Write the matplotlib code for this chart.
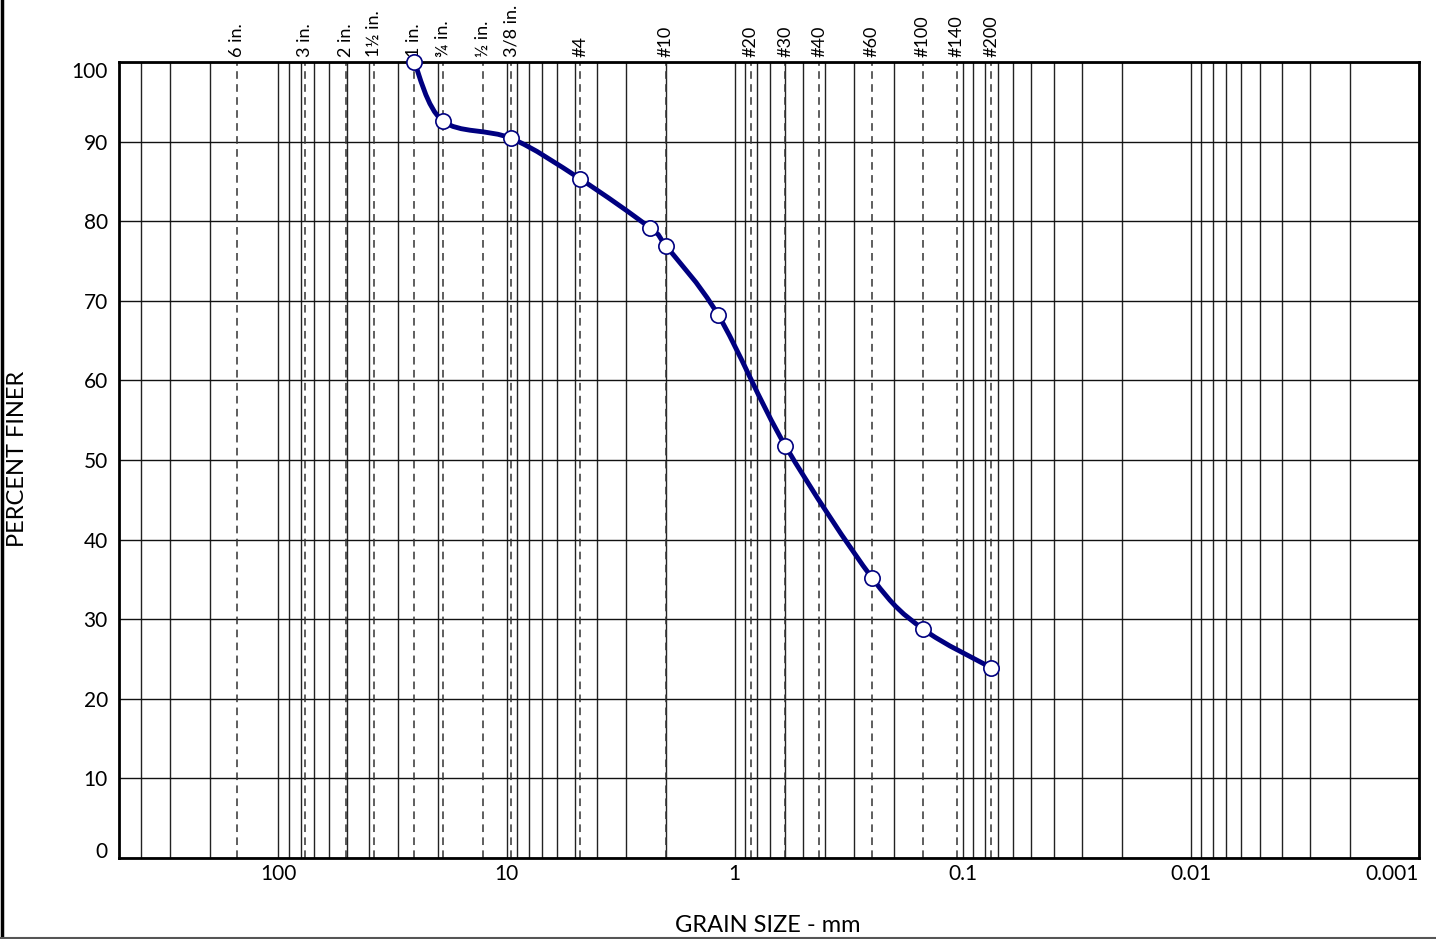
import numpy as np
import matplotlib.pyplot as plt
from matplotlib.path import Path
from matplotlib.patches import PathPatch
from matplotlib.lines import Line2D
from matplotlib.ticker import FixedLocator, NullFormatter, FuncFormatter

plt.rcParams['font.family'] = ['Lato', 'DejaVu Sans']

# gradation test results
grain_mm = [25.4, 19.05, 9.525, 4.75, 2.36, 2.0, 1.18, 0.6, 0.25, 0.15, 0.075]
pct_finer = [100.0, 92.6, 90.4, 85.3, 79.2, 76.9, 68.2, 51.8, 35.2, 28.8, 23.9]

# standard sieve openings shown as dashed lines
sieve_mm = [152.4, 76.2, 50.8, 38.1, 25.4, 19.05, 12.7, 9.525, 4.75, 2.0,
            0.85, 0.6, 0.425, 0.25, 0.15, 0.106, 0.075]
sieve_labels = ["6 in.", "3 in.", "2 in.", "1½ in.", "1 in.", "¾ in.", "½ in.",
                "3/8 in.", "#4", "#10", "#20", "#30", "#40", "#60", "#100",
                "#140", "#200"]

x_major = [100, 10, 1, 0.1, 0.01, 0.001]
y_ticks = [0, 10, 20, 30, 40, 50, 60, 70, 80, 90, 100]

fig = plt.figure(figsize=(14.36, 9.39), dpi=100)
ax = fig.add_axes([119/1436, 1-858/939, 1300/1436, 796/939])
ax.set_xscale('log')
ax.set_xlim(500, 0.001)
ax.set_ylim(0, 100)

# log grid (major + minor decades)
minor = [m * 10.0**e for e in range(-3, 3) for m in range(2, 10) if m * 10.0**e < 500]
ax.xaxis.set_major_locator(FixedLocator(x_major))
ax.xaxis.set_minor_locator(FixedLocator(minor))
ax.xaxis.set_minor_formatter(NullFormatter())
ax.xaxis.set_major_formatter(FuncFormatter(lambda v, p: ('%g' % v)))
ax.set_yticks(y_ticks)
ax.grid(True, which='both', axis='x', color='#222222', lw=1.0)
ax.grid(True, which='major', axis='y', color='#111111', lw=1.0)
ax.tick_params(which='both', length=0, labelsize=15)
ax.tick_params(axis='x', pad=4)
ax.tick_params(axis='y', pad=8)
for s in ax.spines.values():
    s.set_linewidth(2)
ax.set_axisbelow(True)

# nudge end labels like the original
for lab in ax.get_yticklabels():
    if lab.get_text() == '100':
        lab.set_va('top')
    elif lab.get_text() == '0':
        lab.set_va('baseline')
for lab in ax.get_xticklabels():
    if lab.get_text() == '0.001':
        lab.set_ha('right')

# sieve lines and labels
for d, lab in zip(sieve_mm, sieve_labels):
    ax.axvline(d, color='#333333', lw=1.1, ls=(0, (5, 3.5)), zorder=1.5)
    ax.text(d, 1.006, lab, transform=ax.get_xaxis_transform(), rotation=90,
            ha='center', va='bottom', fontsize=13)

# smooth curve (Catmull-Rom as cubic Bezier in log-x space)
lx = np.log10(grain_mm)
py = np.array(pct_finer)
pts = np.column_stack([lx, py])
verts = [pts[0]]
codes = [Path.MOVETO]
n = len(pts)
for i in range(n - 1):
    p0 = pts[i - 1] if i > 0 else pts[i]
    p1 = pts[i]
    p2 = pts[i + 1]
    p3 = pts[i + 2] if i + 2 < n else pts[i + 1]
    c1 = p1 + (p2 - p0) / 6.0
    c2 = p2 - (p3 - p1) / 6.0
    verts += [c1, c2, p2]
    codes += [Path.CURVE4] * 3
verts = np.array(verts)
verts[:, 0] = 10 ** verts[:, 0]
ax.add_patch(PathPatch(Path(verts, codes), fill=False, edgecolor='#000080',
                       lw=3.5, zorder=3, capstyle='round', joinstyle='round'))
ax.plot(grain_mm, pct_finer, 'o', ms=11, mfc='white', mec='#000080',
        mew=1.2, zorder=4, clip_on=False)

fig.text(768/1436, 1-926/939, 'GRAIN SIZE - mm', fontsize=17,
         ha='center', va='center')
fig.text(18/1436, 1-459/939, 'PERCENT FINER', fontsize=17, rotation=90,
         ha='center', va='center')

# outer frame edges visible in the original
fig.add_artist(Line2D([1.5/1436, 1.5/1436], [0, 1], color='black', lw=2.5))
fig.add_artist(Line2D([0, 1], [1.5/939, 1.5/939], color='#555555', lw=1.5))

fig.savefig('out.png', dpi=100)
